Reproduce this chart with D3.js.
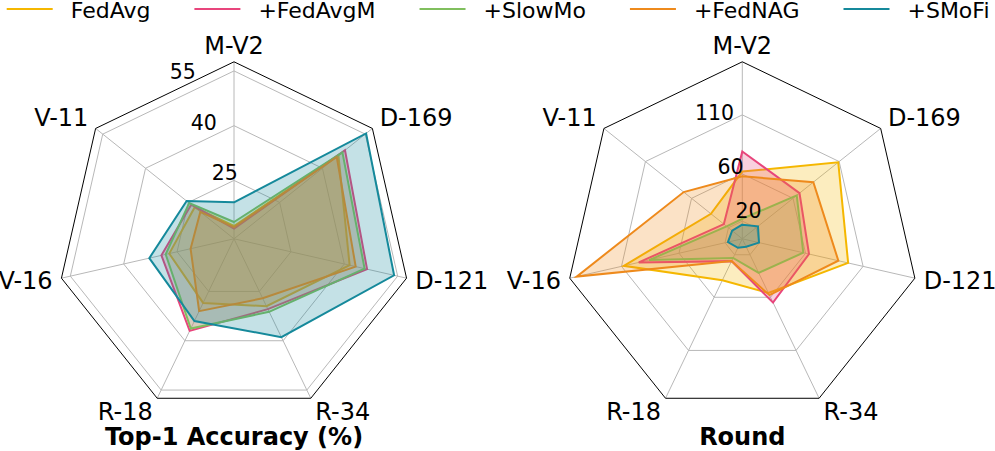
<!DOCTYPE html>
<html>
<head>
<meta charset="utf-8">
<script src="https://cdn.jsdelivr.net/npm/d3@7"></script>
<style>
  body { margin: 0; background: #fff; }
  svg { display: block; font-family: "DejaVu Sans", sans-serif; }
</style>
</head>
<body>
<svg width="995" height="451"></svg>
<script>
// axes, clockwise from the top
const axisNames = ["M-V2", "D-169", "D-121", "R-34", "R-18", "V-16", "V-11"];
const methods = ["FedAvg", "+FedAvgM", "+SlowMo", "+FedNAG", "+SMoFi"];
const colors = ["#f5b700", "#e8457c", "#80bf5e", "#ee8a1c", "#15899b"];

// Top-1 accuracy (%)
const accFedAvg  = [12.5, 45.6, 41.5, 29.5, 28.5, 27.2, 22.8];
const accFedAvgM = [11.8, 47.9, 46.4, 30.4, 37.0, 29.4, 24.0];
const accSlowMo  = [13.6, 47.0, 45.7, 31.2, 36.3, 28.2, 24.7];
const accFedNAG  = [12.2, 45.0, 43.2, 27.1, 31.0, 21.2, 20.8];
const accSMoFi   = [19.0, 55.3, 54.0, 38.9, 34.0, 32.8, 25.6];

// rounds to reach target accuracy
const rndFedAvg  = [62, 109, 97, 56, 44, 108, 39];
const rndFedAvgM = [79, 67, 63, 65, 26, 95, 25];
const rndSlowMo  = [22, 64, 58, 37, 23, 86, 22];
const rndFedNAG  = [58, 82, 88.5, 58, 26, 149, 68.5];
const rndSMoFi   = [17, 22, 19.5, 12.5, 13.5, 17.5, 16];

const accTicks = [25, 40, 55];
const rndTicks = [20, 60, 110];

const svg = d3.select("svg");
const R = 177;

function drawRadar(cx, cy, series, domain, ticks, title) {
    const g = svg.append("g").attr("transform", `translate(${cx},${cy})`);
    const r = d3.scaleLinear().domain(domain).range([0, R]);
    const angle = d3.scaleLinear().domain([0, axisNames.length]).range([0, 2 * Math.PI]);
    const idx = d3.range(axisNames.length);

    const ring = d3.lineRadial()
        .angle(i => angle(i))
        .curve(d3.curveLinearClosed);

    // grid rings
    ticks.forEach(t => {
        g.append("path")
            .attr("d", ring.radius(r(t))(idx))
            .attr("fill", "none")
            .attr("stroke", "#b8b8b8")
            .attr("stroke-width", 1);
    });

    // spokes
    idx.forEach(i => {
        const a = angle(i);
        g.append("line")
            .attr("x1", 0).attr("y1", 0)
            .attr("x2", R * Math.sin(a)).attr("y2", -R * Math.cos(a))
            .attr("stroke", "#b8b8b8")
            .attr("stroke-width", 1);
    });

    // frame
    g.append("path")
        .attr("d", ring.radius(R)(idx))
        .attr("fill", "none")
        .attr("stroke", "#000")
        .attr("stroke-width", 1);

    // series
    const area = d3.lineRadial()
        .angle((d, i) => angle(i))
        .radius(d => r(d))
        .curve(d3.curveLinearClosed);

    series.forEach((vals, k) => {
        g.append("path")
            .attr("d", area(vals))
            .attr("fill", colors[k])
            .attr("fill-opacity", 0.25)
            .attr("stroke", colors[k])
            .attr("stroke-width", 2)
            .attr("stroke-linejoin", "miter");
    });

    // radial tick labels along 22.5 deg
    const la = -22.5 * Math.PI / 180;
    ticks.forEach(t => {
        g.append("text")
            .attr("x", r(t) * Math.sin(la))
            .attr("y", -r(t) * Math.cos(la) - 4.5)
            .attr("font-size", 20.5)
            .attr("text-anchor", "start")
            .text(t);
    });

    // axis labels
    const fs = 24;
    idx.forEach(i => {
        const a = angle(i);
        const s = Math.sin(a), c = Math.cos(a);
        const pad = 8;
        const x = (R + pad) * s + (Math.abs(s) > 0.1 ? Math.sign(s) * 1 : 0);
        const y = -(R + pad) * c + 7.6 * (1 - c);
        g.append("text")
            .attr("x", x)
            .attr("y", y)
            .attr("font-size", fs)
            .attr("text-anchor", s > 0.1 ? "start" : (s < -0.1 ? "end" : "middle"))
            .text(axisNames[i]);
    });

    svg.append("text")
        .attr("x", cx)
        .attr("y", 445)
        .attr("font-size", 24)
        .attr("font-weight", "bold")
        .attr("text-anchor", "middle")
        .text(title);
}

drawRadar(234, 238.8,
    [accFedAvg, accFedAvgM, accSlowMo, accFedNAG, accSMoFi],
    [9, 57.5], accTicks, "Top-1 Accuracy (%)");

drawRadar(742.3, 238.8,
    [rndFedAvg, rndFedAvgM, rndSlowMo, rndFedNAG, rndSMoFi],
    [5, 155], rndTicks, "Round");

// legend across the top
const legend = svg.append("g");
let lx = 6.7;
methods.forEach((m, k) => {
    legend.append("line")
        .attr("x1", lx).attr("x2", lx + 46)
        .attr("y1", 9).attr("y2", 9)
        .attr("stroke", colors[k])
        .attr("stroke-width", 2);
    const txt = legend.append("text")
        .attr("x", lx + 64)
        .attr("y", 17.5)
        .attr("font-size", 22)
        .text(m);
    lx = lx + 64 + txt.node().getComputedTextLength() + 44;
});
</script>
</body>
</html>
